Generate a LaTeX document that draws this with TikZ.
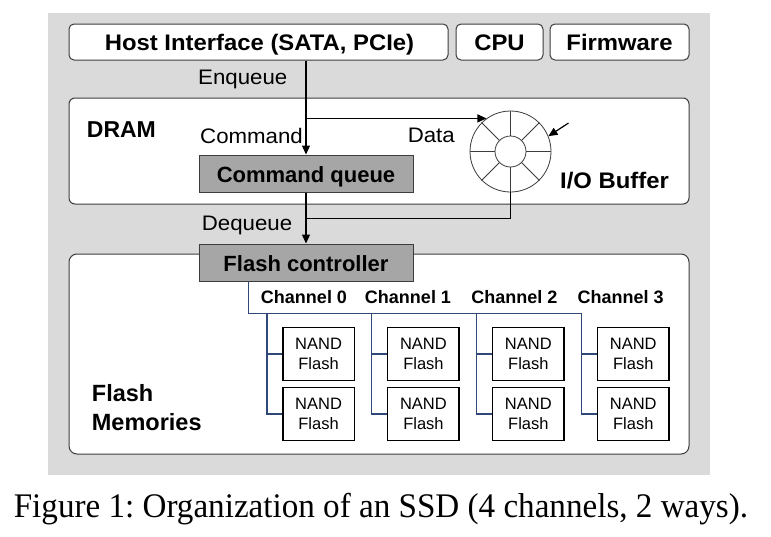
\documentclass[tikz,border=0pt]{standalone}
\usepackage{fontspec}
\setmainfont{Liberation Sans}
\newfontfamily\dsans[FakeStretch=1.06]{Liberation Sans}
\newfontfamily\capfont[FakeStretch=0.96]{Liberation Serif}
\usetikzlibrary{arrows.meta,calc}
\definecolor{bggray}{RGB}{218,218,218}
\definecolor{qgray}{RGB}{166,166,166}
\definecolor{buscol}{RGB}{46,72,120}
\definecolor{edgecol}{RGB}{60,60,60}
\frenchspacing
\begin{document}
\begin{tikzpicture}[x=1pt,y=-1pt,
  panel/.style={draw=edgecol, line width=1pt, fill=white, rounded corners=5pt, inner sep=0pt},
  qbox/.style={draw=edgecol, line width=1pt, fill=qgray, inner sep=0pt},
  nand/.style={draw=black, line width=1.5pt, fill=white, minimum width=71.5pt, minimum height=53pt, inner sep=0pt, align=center, font=\fontsize{16.5}{20}\selectfont},
  arr/.style={line width=1.2pt, -{Triangle[length=9pt,width=8pt]}},
  busline/.style={draw=buscol, line width=1.5pt},
  thinline/.style={line width=1pt},
  txt/.style={inner sep=0pt, anchor=base west},
  ctxt/.style={inner sep=0pt, anchor=base},
  boldbig/.style={font=\dsans\bfseries\fontsize{22.5}{26}\selectfont},
  regtxt/.style={font=\dsans\fontsize{21}{25}\selectfont},
  qtxt/.style={font=\bfseries\fontsize{22}{26}\selectfont},
  chtxt/.style={font=\bfseries\fontsize{18}{22}\selectfont},
]
\useasboundingbox (0,0) rectangle (771,536);

% background
\node[fill=bggray, minimum width=662pt, minimum height=462pt, inner sep=0pt] (bg) at (378.5,243.5) {};

% top boxes
\node[panel, minimum width=379pt, minimum height=36pt] (host) at (258.5,42) {};
\node[panel, minimum width=87pt, minimum height=36pt] (cpu) at (499.5,42) {};
\node[panel, minimum width=139pt, minimum height=36pt] (fw) at (619.5,42) {};
\node[ctxt, boldbig] (hostt) at (259.5,50.7) {Host Interface (SATA, PCIe)};
\node[ctxt, boldbig] (cput) at (499.5,50.7) {CPU};
\node[ctxt, boldbig] (fwt) at (619.5,50.7) {Firmware};

% DRAM and flash panels
\node[panel, rounded corners=6pt, minimum width=620pt, minimum height=106pt] (dram) at (379,151) {};
\node[panel, rounded corners=8pt, minimum width=620pt, minimum height=200pt] (fmem) at (379,354) {};

% queues
\node[qbox, minimum width=214pt, minimum height=37pt] (cmdq) at (306,173.5) {};
\node[ctxt, qtxt] (cmdqt) at (306,182.7) {Command queue};
\node[qbox, minimum width=214pt, minimum height=37pt] (fc) at (306,262.5) {};
\node[ctxt, qtxt] (fct) at (306,271.7) {Flash controller};

% I/O buffer
\node[circle, draw=edgecol, line width=0.8pt, fill=white, minimum size=81pt, inner sep=0pt] (buf) at (510.5,151.5) {};
\node[circle, draw=edgecol, line width=0.8pt, minimum size=31pt, inner sep=0pt] (bufin) at (510.5,151.5) {};
\foreach \a in {0,45,...,315} \draw[edgecol, line width=0.8pt] (bufin.\a) -- (buf.\a);

% labels
\node[txt, regtxt] (enq) at (198,84) {Enqueue};
\node[txt, font=\bfseries\fontsize{23}{27}\selectfont] (dramt) at (86.7,137.7) {DRAM};
\node[txt, regtxt] (cmdt) at (200,143.3) {Command};
\node[inner sep=0pt, anchor=base east, regtxt] (datat) at (455,142.7) {Data};
\node[txt, boldbig] (iobt) at (560,188.3) {I/O Buffer};
\node[txt, regtxt] (deq) at (201.7,230) {Dequeue};
\node[txt, font=\bfseries\fontsize{23.5}{28.3}\selectfont] (fmt1) at (91.7,401.7) {Flash};
\node[txt, font=\bfseries\fontsize{23.5}{28.3}\selectfont] (fmt2) at (91.7,430) {Memories};

% arrows
\draw[arr] (host.south -| cmdq.north) -- (cmdq.north);
\draw[arr] (cmdq.north |- buf.126) -- (buf.126);
\coordinate (ptr) at (568.5,123);
\draw[arr] (ptr) -- (buf.22);
\coordinate (dqj) at (306,218.3);
\draw[thinline] (buf.south) |- (dqj);
\draw[arr] (cmdq.south) -- (fc.north);

% channels and NAND flash
\coordinate (b0) at (248.3,0);
\coordinate (busr) at (581.3,313.3);
\draw[busline, line join=miter] (fc.south -| b0) |- (busr);
\foreach \i/\cx in {0/304,1/408,2/514.3,3/620.7} {
  \node[ctxt, chtxt] (ch\i) at (\cx,303.3) {Channel \i};
}
\foreach \i in {0,...,3} {
  \node[nand] (nA\i) at ({318.55+104.9*\i},354.2) {NAND\\Flash};
  \node[nand] (nB\i) at ({318.55+104.9*\i},414.2) {NAND\\Flash};
  \coordinate (v\i) at ({266.8+104.9*\i},313.3);
  \draw[busline] (v\i) |- (nB\i.west);
  \draw[busline] (nA\i.west -| v\i) -- (nA\i.west);
}

% caption
\node[ctxt, font=\capfont\fontsize{34.5}{40}\selectfont] (cap) at (381,517) {Figure 1: Organization of an SSD (4 channels, 2 ways).};
\end{tikzpicture}
\end{document}
